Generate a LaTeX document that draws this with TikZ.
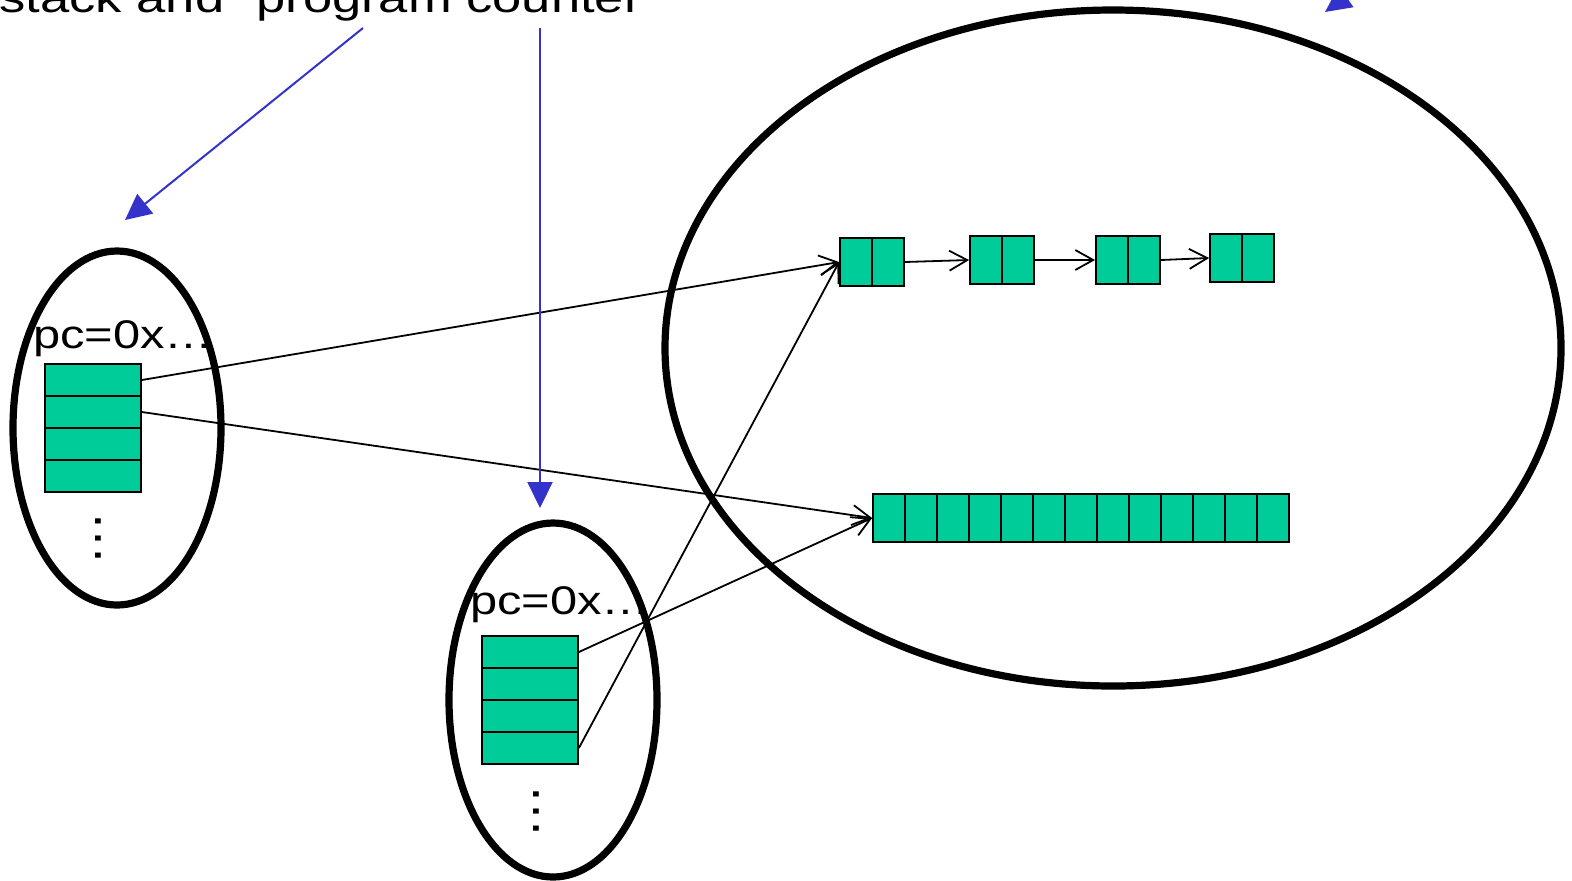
\documentclass[tikz,border=0pt]{standalone}
\usepackage{fontspec}
\setmainfont{Liberation Sans}
\usetikzlibrary{arrows.meta}
\definecolor{cellgreen}{RGB}{0,204,153}
\definecolor{arrowblue}{RGB}{51,51,204}

\begin{document}
\begin{tikzpicture}[x=0.5pt,y=-0.5pt,
	stackcell/.style={draw,fill=cellgreen,line width=0.9pt,inner sep=0pt,minimum width=48pt,minimum height=16pt},
	heapcell/.style={draw,fill=cellgreen,line width=0.9pt,inner sep=0pt,minimum width=16pt,minimum height=24pt},
	region/.style={line width=3.6pt},
	ptr/.style={line width=0.9pt,-{Straight Barb[length=9pt,width=10pt,line width=0.9pt]}},
	note/.style={draw=arrowblue,line width=1pt,-{Triangle[length=13pt,width=12.5pt]},arrowblue},
	label/.style={inner sep=0pt,font=\fontsize{20}{24}\selectfont},
	more/.style={inner sep=0pt,rotate=-90,font=\fontsize{27}{30}\selectfont}]
\useasboundingbox (0,0) rectangle (1572,880);
\clip (0,0) rectangle (1572,880);
%================================================================
%	Regions
\draw[region] (117,428) ellipse [x radius=104, y radius=177];
\draw[region] (553,700) ellipse [x radius=104, y radius=177];
\draw[region] (1113,348) ellipse [x radius=448, y radius=338];
%================================================================
%	Stacks
\node[label,anchor=base west] (pc1) at (33,348) {\scalebox{1.22}[1]{pc=0x…}};
\node[stackcell] (s1) at (93,380) {};
\node[stackcell] (s2) at (93,412) {};
\node[stackcell] (s3) at (93,444) {};
\node[stackcell] (s4) at (93,476) {};
\node[more] (d1) at (98,538) {…};
%----------------------------------------------------------------
\node[label,anchor=base west] (pc2) at (470,614) {\scalebox{1.22}[1]{pc=0x…}};
\node[stackcell] (m1) at (530,652) {};
\node[stackcell] (m2) at (530,684) {};
\node[stackcell] (m3) at (530,716) {};
\node[stackcell] (m4) at (530,748) {};
\node[more] (d2) at (536,811) {…};
%================================================================
%	Heap: list
\node[heapcell] (l1a) at (856,262) {};
\node[heapcell] (l1b) at (888,262) {};
\node[heapcell] (l2a) at (986,260) {};
\node[heapcell] (l2b) at (1018,260) {};
\node[heapcell] (l3a) at (1112,260) {};
\node[heapcell] (l3b) at (1144,260) {};
\node[heapcell] (l4a) at (1226,258) {};
\node[heapcell] (l4b) at (1258,258) {};
%----------------------------------------------------------------
%	Heap: array
\node[heapcell] (r1) at (889,518) {};
\node[heapcell] (r2) at (921,518) {};
\node[heapcell] (r3) at (953,518) {};
\node[heapcell] (r4) at (985,518) {};
\node[heapcell] (r5) at (1017,518) {};
\node[heapcell] (r6) at (1049,518) {};
\node[heapcell] (r7) at (1081,518) {};
\node[heapcell] (r8) at (1113,518) {};
\node[heapcell] (r9) at (1145,518) {};
\node[heapcell] (r10) at (1177,518) {};
\node[heapcell] (r11) at (1209,518) {};
\node[heapcell] (r12) at (1241,518) {};
\node[heapcell] (r13) at (1273,518) {};
%================================================================
%	Pointers
\draw[ptr] (l1b.east) -- (l2a.west);
\draw[ptr] (l2b.east) -- (l3a.west);
\draw[ptr] (l3b.east) -- (l4a.west);
%----------------------------------------------------------------
\draw[ptr] (s1.east) -- (l1a.west);
\draw[ptr] (s2.east) -- (r1.west);
\draw[ptr] (m1.east) -- (r1.west);
\draw[ptr] (m4.east) -- (l1a.west);
%================================================================
%	Notes
\node[inner sep=0pt,anchor=base east,font=\fontsize{21}{25}\selectfont] (t) at (642,12) {\scalebox{1.25}[1]{stack and "program counter}};
\coordinate (t1) at (363,28);
\coordinate (t2) at (540,28);
\coordinate (t3) at (1495,-110);
\coordinate (h1) at (125,220);
\coordinate (h2) at (540,508);
\coordinate (h3) at (1325,12);
\draw[note] (t1) -- (h1);
\draw[note] (t2) -- (h2);
\draw[note] (t3) -- (h3);
%================================================================
\end{tikzpicture}
\end{document}
